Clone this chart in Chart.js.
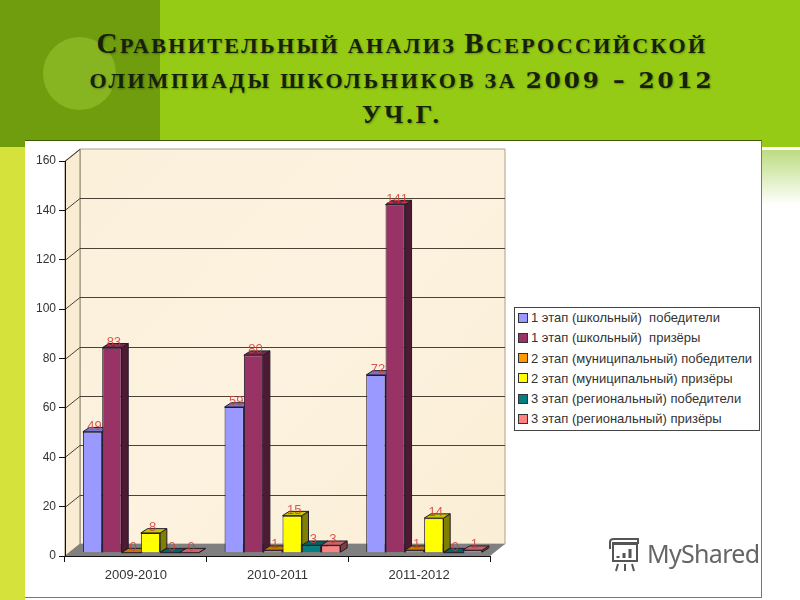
<!DOCTYPE html>
<html lang="ru">
<head>
<meta charset="UTF-8">
<title>Сравнительный анализ</title>
<script src="https://cdn.jsdelivr.net/npm/chart.js@4"></script>
<style>
    html, body { margin: 0; padding: 0; }
    body { position: relative; width: 800px; height: 600px; overflow: hidden; background: #fff; }
    .abs { position: absolute; }
    #header { left: 0; top: 0; width: 800px; height: 147px; background: #95cb15; }
    #headerDark { left: 0; top: 0; width: 160px; height: 147px; background: #6f9d0e; }
    #circle { left: 43px; top: 37px; width: 73px; height: 73px; border-radius: 50%; background: rgba(170,215,60,.42); }
    #strip { left: 0; top: 147px; width: 25px; height: 453px; background: #d5e23c; }
    #stripRight { left: 762px; top: 150px; width: 38px; height: 55px; background: linear-gradient(#bcdc80, #fff); }
    #panel { left: 25px; top: 140px; width: 736px; height: 456px; background: #fff; border-top: 1px solid #3c5a00; border-right: 1px solid #777; border-bottom: 1px solid #777; }
    .line { left: 0; width: 804px; text-align: center; white-space: nowrap; color: #16210a; font: bold 22px "Liberation Serif", serif; text-transform: uppercase; text-shadow: 1px 1px 2px rgba(0,0,0,.3); }
    .cap { font-size: 29px; }
    .wide { font-family: "DejaVu Serif", serif; font-size: 23px; letter-spacing: 3px; }
    canvas { position: absolute; left: 0; top: 0; }
    #legend { left: 514px; top: 307px; width: 244px; height: 122px; border: 1px solid #444; background: #fff; font: 13px "Liberation Sans", Arial, sans-serif; color: #333; }
    #legend div { height: 20.3px; line-height: 20.3px; white-space: pre; padding-left: 3px; }
    #legend span { display: inline-block; width: 8px; height: 8px; border: 1px solid #333; margin-right: 3px; vertical-align: -0.5px; }
    #mark { left: 647px; top: 536px; font: 25px "Noto Sans", sans-serif; color: #666; width: 114px; overflow: hidden; white-space: nowrap; letter-spacing: -0.7px; }
</style>
</head>
<body>
<div class="abs" id="header"></div>
<div class="abs" id="headerDark"></div>
<div class="abs" id="circle"></div>
<div class="abs" id="strip"></div>
<div class="abs" id="stripRight"></div>
<div class="abs" id="panel"></div>
<div class="abs line" style="top:27px;letter-spacing:2.4px"><span class="cap">С</span>равнительный анализ <span class="cap">В</span>сероссийской</div>
<div class="abs line" style="top:66px;letter-spacing:2.8px">олимпиады школьников за <span class="wide">2009 – 2012</span></div>
<div class="abs line" style="top:100px;font-size:26px;letter-spacing:3px">уч.г.</div>

<canvas id="chart" width="800" height="600"></canvas>

<div class="abs" id="legend"></div>

<!-- watermark -->
<svg class="abs" style="left:606px;top:537px" width="36" height="36" fill="none" stroke="#555" stroke-width="2">
    <path d="M4 12 V5 Q4 2 8 2 H32 V6 H6"/>
    <rect x="7" y="7" width="24" height="17"/>
    <path d="M12 19 v2 M18 16 v5 M24 12 v9" stroke-width="3"/>
    <path d="M12 27 l-2 7 M19 27 v7 M26 27 l2 7"/>
</svg>
<div class="abs" id="mark">MyShared</div>

<script>
var categories = ['2009-2010', '2010-2011', '2011-2012'];
var seriesNames = [
    '1 этап (школьный)  победители',
    '1 этап (школьный)  призёры',
    '2 этап (муниципальный) победители',
    '2 этап (муниципальный) призёры',
    '3 этап (региональный) победители',
    '3 этап (региональный) призёры'
];
var stage1Winners = [49, 59, 72];
var stage1Prize = [83, 80, 141];
var stage2Winners = [0, 1, 1];
var stage2Prize = [8, 15, 14];
var stage3Winners = [0, 3, 0];
var stage3Prize = [0, 3, 1];
var seriesValues = [stage1Winners, stage1Prize, stage2Winners, stage2Prize, stage3Winners, stage3Prize];
var seriesColors = ['#9999ff', '#993366', '#ff9900', '#ffff00', '#008080', '#ff8080'];

// wall depth and bar depth of the fake 3D look
var wallX = 15, wallY = 12;
var barX = 6.7, barY = 4.3;
var shiftX = 5, shiftY = 3.3;

function shade(hex, f) {
    var n = parseInt(hex.slice(1), 16);
    var r = Math.round((n >> 16) * f), g = Math.round(((n >> 8) & 255) * f), b = Math.round((n & 255) * f);
    return 'rgb(' + r + ',' + g + ',' + b + ')';
}

function poly(ctx, pts, fill, stroke) {
    ctx.beginPath();
    ctx.moveTo(pts[0][0], pts[0][1]);
    for (var i = 1; i < pts.length; i++) ctx.lineTo(pts[i][0], pts[i][1]);
    ctx.closePath();
    if (fill) { ctx.fillStyle = fill; ctx.fill(); }
    if (stroke) { ctx.strokeStyle = stroke; ctx.lineWidth = 1; ctx.stroke(); }
}

var wallsPlugin = {
    id: 'walls',
    // walls, floor and gridlines go under the axes
    beforeDraw: function(chart) {
        var ctx = chart.ctx, a = chart.chartArea, yScale = chart.scales.y;
        ctx.save();
        var grad = ctx.createLinearGradient(a.left, a.top, a.right, a.bottom);
        grad.addColorStop(0, '#fbf0da');
        grad.addColorStop(0.5, '#fcf2df');
        grad.addColorStop(1, '#fbeed6');
        poly(ctx, [[a.left + wallX, a.top - wallY], [a.right + wallX, a.top - wallY],
                   [a.right + wallX, a.bottom - wallY], [a.left + wallX, a.bottom - wallY]], grad, '#aaa08c');
        poly(ctx, [[a.left, a.top], [a.left + wallX, a.top - wallY],
                   [a.left + wallX, a.bottom - wallY], [a.left, a.bottom]], '#faecd2', '#8a8270');
        poly(ctx, [[a.left, a.bottom], [a.right, a.bottom],
                   [a.right + wallX, a.bottom - wallY], [a.left + wallX, a.bottom - wallY]], '#808080');
        ctx.strokeStyle = '#4a4234';
        ctx.lineWidth = 1;
        yScale.ticks.forEach(function(t) {
            if (t.value === 0) return;
            var y = Math.round(yScale.getPixelForValue(t.value)) + 0.5;
            ctx.beginPath();
            ctx.moveTo(a.left, y);
            ctx.lineTo(a.left + wallX, y - wallY);
            if (t.value < 160) ctx.lineTo(a.right + wallX, y - wallY);
            ctx.stroke();
        });
        ctx.restore();
    },
    // chart.js paints the last dataset first, the bars need the opposite so skip its pass
    beforeDatasetDraw: function() {
        return false;
    },
    afterDatasetsDraw: function(chart) {
        var ctx = chart.ctx;
        ctx.save();
        ctx.translate(shiftX, -shiftY);
        chart.data.datasets.forEach(function(ds, i) {
            var meta = chart.getDatasetMeta(i);
            meta.controller.draw();
            meta.data.forEach(function(bar) {
                var p = bar.getProps(['x', 'y', 'base', 'width'], true);
                var l = p.x - p.width / 2, r = p.x + p.width / 2;
                poly(ctx, [[r, p.y], [r + barX, p.y - barY], [r + barX, p.base - barY], [r, p.base]], shade(seriesColors[i], 0.5), '#221a2a');
                poly(ctx, [[l, p.y], [l + barX, p.y - barY], [r + barX, p.y - barY], [r, p.y]], shade(seriesColors[i], 0.78), '#221a2a');
            });
        });
        ctx.font = '13px "Liberation Sans", Arial, sans-serif';
        ctx.textAlign = 'center';
        ctx.textBaseline = 'middle';
        ctx.fillStyle = 'rgba(208,62,58,.85)';
        chart.data.datasets.forEach(function(ds, i) {
            chart.getDatasetMeta(i).data.forEach(function(bar, j) {
                var p = bar.getProps(['x', 'y'], true);
                ctx.fillText(String(ds.data[j]), p.x + 2, p.y - 5.5);
            });
        });
        ctx.restore();
    }
};

var datasets = seriesNames.map(function(name, i) {
    return {
        label: name,
        data: seriesValues[i],
        backgroundColor: seriesColors[i],
        borderColor: '#221a2a',
        borderWidth: 1,
        barPercentage: 1,
        categoryPercentage: 0.818
    };
});

new Chart(document.getElementById('chart').getContext('2d'), {
    type: 'bar',
    data: { labels: categories, datasets: datasets },
    plugins: [wallsPlugin],
    options: {
        responsive: false,
        animation: false,
        layout: { autoPadding: false, padding: { left: 25, top: 161, right: 310, bottom: 0 } },
        plugins: { legend: { display: false }, title: { display: false }, tooltip: { enabled: false } },
        scales: {
            x: {
                afterFit: function(s) { s.height = 44; },
                grid: { offset: true, drawOnChartArea: false, color: '#111', tickLength: 6 },
                border: { color: '#111' },
                ticks: { color: '#333', padding: 6, maxRotation: 0, font: { family: '"Liberation Sans", Arial, sans-serif', size: 13 } }
            },
            y: {
                min: 0,
                max: 160,
                afterFit: function(s) { s.width = 40; },
                grid: { drawOnChartArea: false, color: '#111', tickLength: 6 },
                border: { color: '#111' },
                ticks: { stepSize: 20, color: '#333', padding: 3, font: { family: '"Liberation Sans", Arial, sans-serif', size: 12 } }
            }
        }
    }
});

// legend sits in its own box next to the plot
var legendBox = document.getElementById('legend');
seriesNames.forEach(function(name, i) {
    var row = document.createElement('div');
    var swatch = document.createElement('span');
    swatch.style.background = seriesColors[i];
    row.appendChild(swatch);
    row.appendChild(document.createTextNode(name));
    legendBox.appendChild(row);
});
</script>
</body>
</html>
